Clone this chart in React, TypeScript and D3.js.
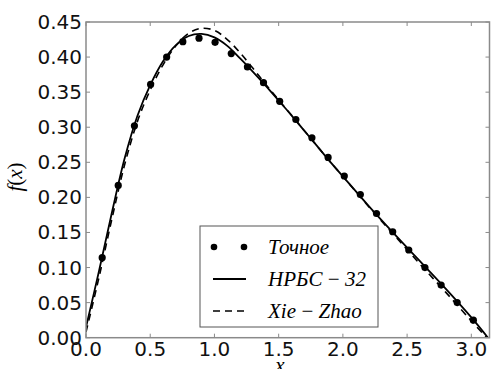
import React from "react";
import * as d3 from "d3";

const exactX = [0.126, 0.251, 0.377, 0.503, 0.628, 0.754, 0.880, 1.005, 1.131, 1.257, 1.382, 1.508, 1.634, 1.759, 1.885, 2.011, 2.136, 2.262, 2.388, 2.513, 2.639, 2.765, 2.890, 3.016];
const exactY = [0.114, 0.217, 0.302, 0.361, 0.400, 0.422, 0.427, 0.421, 0.405, 0.386, 0.3635, 0.337, 0.311, 0.285, 0.257, 0.2305, 0.204, 0.177, 0.151, 0.125, 0.100, 0.075, 0.050, 0.025];

const nrbsX = [0, 0.1, 0.2, 0.3, 0.4, 0.5, 0.6, 0.7, 0.8, 0.9, 1.0, 1.1, 1.2, 1.3, 1.4, 1.5, 1.6, 1.7, 1.8, 1.9, 2.0, 2.2, 2.4, 2.6, 2.8, 3.0, 3.13];
const nrbsY = [0.015, 0.094, 0.177, 0.255, 0.316, 0.360, 0.394, 0.417, 0.430, 0.433, 0.428, 0.416, 0.398, 0.379, 0.359, 0.338, 0.317, 0.295, 0.273, 0.251, 0.230, 0.188, 0.148, 0.109, 0.070, 0.029, 0.0];

const xzX = [0, 0.1, 0.2, 0.3, 0.4, 0.5, 0.6, 0.7, 0.8, 0.9, 1.0, 1.1, 1.2, 1.3, 1.4, 1.5, 1.6, 1.7, 1.8, 1.9, 2.0, 2.2, 2.4, 2.6, 2.8, 3.0, 3.12];
const xzY = [0.008, 0.085, 0.168, 0.246, 0.308, 0.353, 0.389, 0.416, 0.434, 0.441, 0.438, 0.425, 0.406, 0.384, 0.361, 0.339, 0.317, 0.295, 0.273, 0.251, 0.230, 0.187, 0.146, 0.105, 0.065, 0.024, 0.0];

const xTicks = [0.0, 0.5, 1.0, 1.5, 2.0, 2.5, 3.0];
const yTicks = [0.0, 0.05, 0.1, 0.15, 0.2, 0.25, 0.3, 0.35, 0.4, 0.45];
const legendLabels = ["Точное", "НРБС\u2009−\u200932", "Xie\u2009−\u2009Zhao"];

const W = 491, H = 369;
const L = 86, R = 489.5, T = 22, B = 337.7;

export default function App() {
  const x = d3.scaleLinear().domain([0, Math.PI]).range([L, R]);
  const y = d3.scaleLinear().domain([0, 0.45]).range([B, T]);
  const line = d3.line<[number, number]>().x(d => x(d[0])).y(d => y(d[1])).curve(d3.curveCatmullRom.alpha(0.5));
  const nrbs = line(nrbsX.map((v, i) => [v, nrbsY[i]] as [number, number])) || "";
  const xz = line(xzX.map((v, i) => [v, xzY[i]] as [number, number])) || "";
  const tickFont = { fontFamily: "DejaVu Sans", fontSize: 20 };
  const mathFont = { fontFamily: "Liberation Serif", fontStyle: "italic" as const, fontSize: 21 };
  const spine = "#8a8a8a";
  const lgX = 200, lgY = 226, lgW = 178, lgH = 101;
  const rows = [247, 279, 311];
  return (
    <svg width={W} height={H} style={{ position: "absolute", left: 0, top: 0, background: "#fff" }}>
      <defs>
        <clipPath id="plot"><rect x={L} y={T} width={R - L} height={B - T} /></clipPath>
      </defs>
      <rect x={0} y={0} width={W} height={H} fill="#fff" />
      <g clipPath="url(#plot)">
        <path d={xz} fill="none" stroke="#000" strokeWidth={1.6} strokeDasharray="7,5" />
        <path d={nrbs} fill="none" stroke="#000" strokeWidth={1.8} />
        {exactX.map((v, i) => (
          <circle key={i} cx={x(v)} cy={y(exactY[i])} r={3.6} fill="#000" />
        ))}
      </g>
      <rect x={L} y={T} width={R - L} height={B - T} fill="none" stroke={spine} strokeWidth={1.5} />
      {xTicks.map((t, i) => (
        <g key={"x" + i}>
          <line x1={x(t)} x2={x(t)} y1={B} y2={B - 4} stroke={spine} />
          <line x1={x(t)} x2={x(t)} y1={T} y2={T + 4} stroke={spine} />
          <text x={x(t)} y={356} textAnchor="middle" style={tickFont} fill="#111">{t.toFixed(1)}</text>
        </g>
      ))}
      {yTicks.map((t, i) => (
        <g key={"y" + i}>
          <line x1={L} x2={L + 4} y1={y(t)} y2={y(t)} stroke={spine} />
          <line x1={R} x2={R - 4} y1={y(t)} y2={y(t)} stroke={spine} />
          <text x={82} y={y(t) + 7} textAnchor="end" style={tickFont} fill="#111">{t.toFixed(2)}</text>
        </g>
      ))}
      <text x={280} y={372} textAnchor="middle" style={mathFont}>x</text>
      <text transform={`translate(22,177) rotate(-90)`} textAnchor="middle" style={{ ...mathFont, fontStyle: "normal" }}>
        <tspan fontStyle="italic">f</tspan>(<tspan fontStyle="italic">x</tspan>)
      </text>
      <rect x={lgX} y={lgY} width={lgW} height={lgH} fill="#fff" stroke="#555" strokeWidth={1} />
      <circle cx={214} cy={rows[0]} r={3.3} fill="#000" />
      <circle cx={244} cy={rows[0]} r={3.3} fill="#000" />
      <line x1={213} x2={246} y1={rows[1]} y2={rows[1]} stroke="#000" strokeWidth={1.8} />
      <line x1={213} x2={246} y1={rows[2]} y2={rows[2]} stroke="#000" strokeWidth={1.6} strokeDasharray="7,5" />
      {legendLabels.map((s, i) => (
        <text key={s} x={268} y={rows[i] + 7} style={mathFont}>{s}</text>
      ))}
    </svg>
  );
}
